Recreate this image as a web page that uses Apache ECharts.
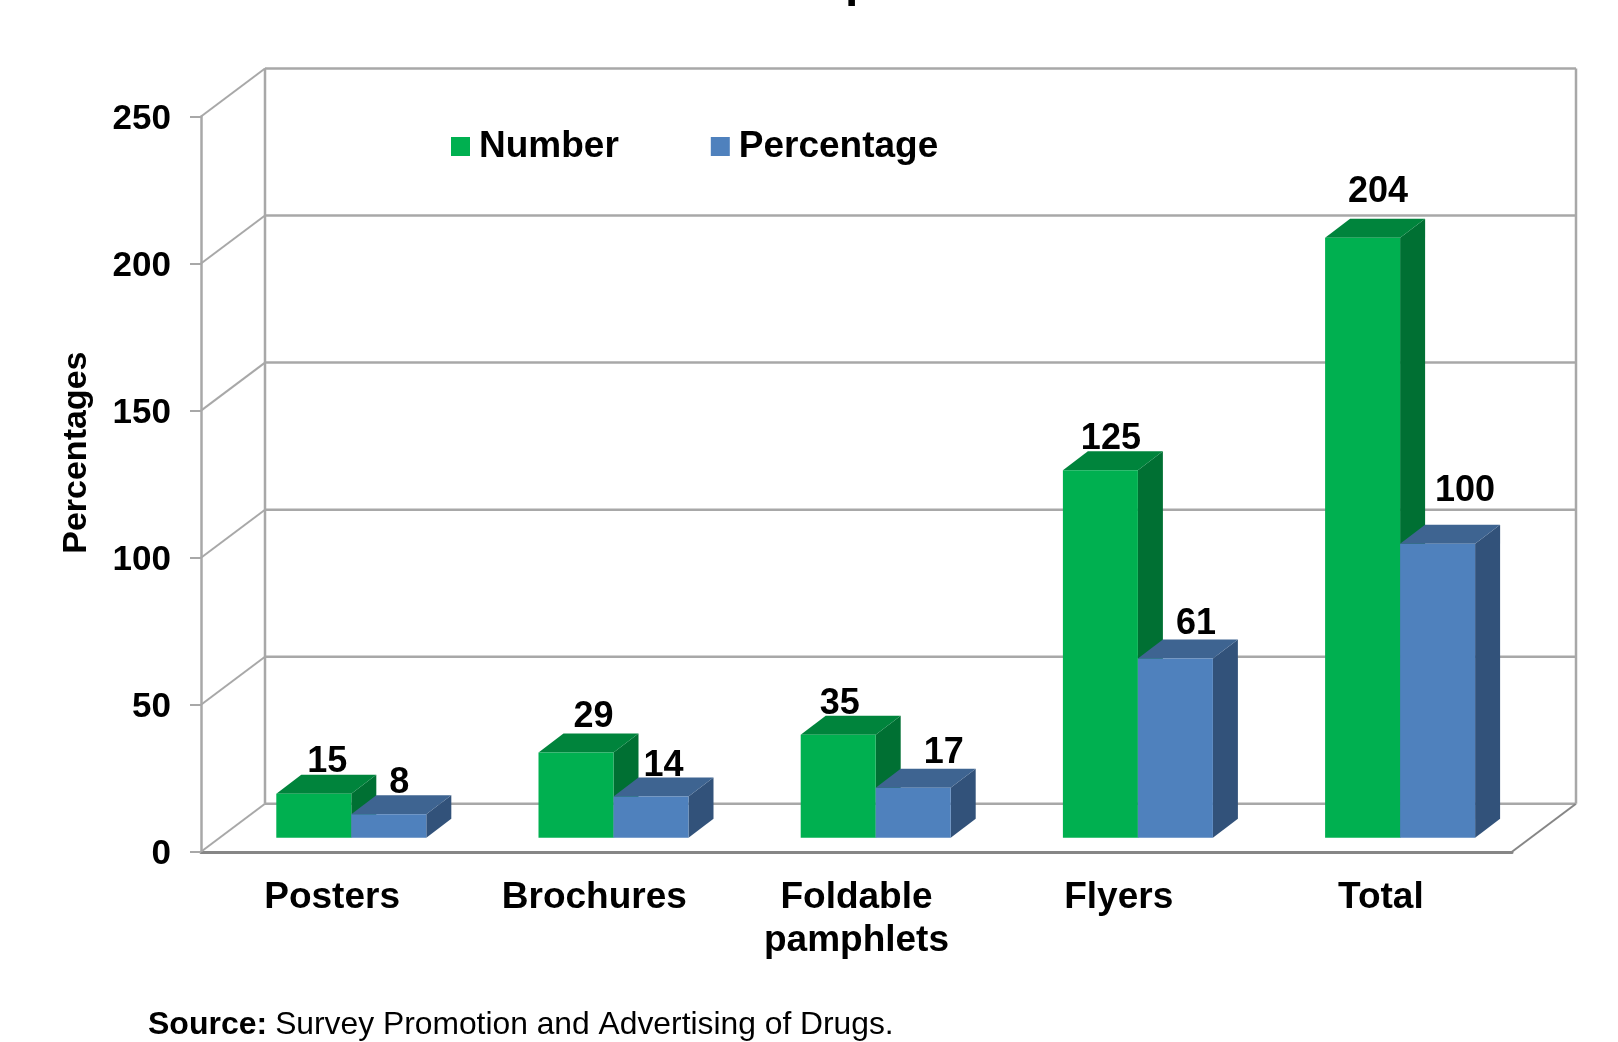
<!DOCTYPE html>
<html>
<head>
<meta charset="utf-8">
<style>html,body{margin:0;padding:0;background:#fff}#chart{width:1618px;height:1042px}</style>
<script src="https://cdn.jsdelivr.net/npm/echarts@6/dist/echarts.min.js"></script>
</head>
<body>
<div id="chart"></div>
<script>
// Chart data
const categories = ['Posters', 'Brochures', 'Foldable\npamphlets', 'Flyers', 'Total'];
const numberValues = [15, 29, 35, 125, 204];
const percentageValues = [8, 14, 17, 61, 100];
const valueTicks = [0, 50, 100, 150, 200, 250];

// Hand-placed label nudges, [dx, dy] from the default spot above each bar
const numberLabelNudge = [[1, 1], [5, -2], [-11, 2], [-2, 2], [3, -13]];
const percentageLabelNudge = [[-2, 2], [0, 2], [18, -2], [8, -1], [15, -20]];

const FONT = '"Liberation Sans", Arial, sans-serif';
const GRID_LINE = '#a8a8a8';
const FLOOR_LINE = '#868686';

// Depth of the box the chart sits in, and of the bars' front plane inside it
const WALL_DX = 64, WALL_DY = -48;
const PLANE_DX = 19.2, PLANE_DY = -14;
const BAR_DX = 25, BAR_DY = -19;
const BAR_WIDTH = 75;

function poly(points, fill) {
  return { type: 'polygon', shape: { points }, style: { fill }, silent: true };
}
function seg(x1, y1, x2, y2, stroke, width) {
  return { type: 'line', shape: { x1, y1, x2, y2 }, style: { stroke, lineWidth: width }, silent: true };
}

// One tick of the back wall: its diagonal from the axis and the line across the wall
function renderWall(params, api) {
  const cs = params.coordSys;
  const tick = api.value(0);
  const y = api.coord([0, tick])[1];
  const left = cs.x, right = cs.x + cs.width;
  const kids = [
    seg(left, y, left + WALL_DX, y + WALL_DY, GRID_LINE, 2),
    seg(left + WALL_DX, y + WALL_DY, right + WALL_DX, y + WALL_DY, GRID_LINE, 2.5)
  ];
  if (tick === 0) {
    kids.push(seg(right, y, right + WALL_DX, y + WALL_DY, FLOOR_LINE, 2));
    const topY = api.coord([0, valueTicks[valueTicks.length - 1]])[1] + WALL_DY;
    kids.push(seg(left + WALL_DX, y + WALL_DY, left + WALL_DX, topY, GRID_LINE, 2.5));
    kids.push(seg(right + WALL_DX, y + WALL_DY, right + WALL_DX, topY, GRID_LINE, 2.5));
  }
  return { type: 'group', children: kids };
}

// A box with front, side and top faces, plus its value label
function boxRenderer(side, front, sideFill, topFill, nudges) {
  return function (params, api) {
    const i = api.value(0), v = api.value(1);
    const c = api.coord([i, v]), base = api.coord([i, 0]);
    const x0 = c[0] + PLANE_DX + (side < 0 ? -BAR_WIDTH : 0);
    const x1 = x0 + BAR_WIDTH;
    const top = c[1] + PLANE_DY, bottom = base[1] + PLANE_DY;
    const n = nudges[params.dataIndex];
    return {
      type: 'group',
      children: [
        poly([[x1, top], [x1 + BAR_DX, top + BAR_DY], [x1 + BAR_DX, bottom + BAR_DY], [x1, bottom]], sideFill),
        poly([[x0, top], [x0 + BAR_DX, top + BAR_DY], [x1 + BAR_DX, top + BAR_DY], [x1, top]], topFill),
        { type: 'rect', shape: { x: x0, y: top, width: BAR_WIDTH, height: bottom - top }, style: { fill: front }, silent: true },
        {
          type: 'text', z2: 50, silent: true,
          style: {
            text: String(v), x: x0 + BAR_WIDTH / 2 + BAR_DX / 2 + n[0], y: top + BAR_DY - 14 + n[1],
            align: 'center', verticalAlign: 'middle', fill: '#000', font: 'bold 36px ' + FONT
          }
        }
      ]
    };
  };
}

const chart = echarts.init(document.getElementById('chart'), null, { renderer: 'canvas' });
chart.setOption({
  animation: false,
  backgroundColor: '#ffffff',
  title: {
    left: 143, top: 1004,
    text: '{b|Source:} {r|Survey Promotion and Advertising of Drugs.}',
    textStyle: {
      rich: {
        b: { fontFamily: FONT, fontWeight: 'bold', fontSize: 32, color: '#000' },
        r: { fontFamily: FONT, fontWeight: 'normal', fontSize: 31.8, color: '#000', padding: [0, 0, 0, 3] }
      }
    }
  },
  legend: {
    left: 451, top: 128, padding: 0,
    itemWidth: 19, itemHeight: 19, itemGap: 92, icon: 'rect',
    selectedMode: false,
    textStyle: { fontFamily: FONT, fontWeight: 'bold', fontSize: 37, color: '#000', padding: [0, 0, 0, 4] },
    data: [
      { name: 'Number', itemStyle: { color: '#00b050' } },
      { name: 'Percentage', itemStyle: { color: '#4f81bd' } }
    ]
  },
  grid: { left: 201, right: 106, top: 116.5, bottom: 190.2 },
  xAxis: {
    type: 'category', data: categories,
    axisLine: { lineStyle: { color: FLOOR_LINE, width: 3 } },
    axisTick: { show: false },
    axisLabel: { margin: 24, interval: 0, fontFamily: FONT, fontWeight: 'bold', fontSize: 37, color: '#000', lineHeight: 43 }
  },
  yAxis: {
    type: 'value', min: 0, max: 250, interval: 50,
    name: 'Percentages', nameLocation: 'middle', nameGap: 107,
    nameTextStyle: { fontFamily: FONT, fontWeight: 'bold', fontSize: 34, color: '#000', padding: [0, 0, 0, 63] },
    axisLine: { show: true, lineStyle: { color: GRID_LINE, width: 2.5 } },
    axisTick: { show: true, length: 11, lineStyle: { color: GRID_LINE, width: 2 } },
    splitLine: { show: false },
    axisLabel: { margin: 30, fontFamily: FONT, fontWeight: 'bold', fontSize: 35, color: '#000', verticalAlign: 'top', lineHeight: 6 }
  },
  series: [
    { type: 'custom', name: 'wall', silent: true, z: 1, renderItem: renderWall, encode: { y: 0 }, data: valueTicks.map(t => [t]) },
    {
      type: 'custom', name: 'Number', z: 2, clip: false, itemStyle: { color: '#00b050' },
      renderItem: boxRenderer(-1, '#00b050', '#007033', '#00843c', numberLabelNudge),
      encode: { x: 0, y: 1 }, data: numberValues.map((v, i) => [i, v])
    },
    {
      type: 'custom', name: 'Percentage', z: 3, clip: false, itemStyle: { color: '#4f81bd' },
      renderItem: boxRenderer(1, '#4f81bd', '#32527a', '#3e6491', percentageLabelNudge),
      encode: { x: 0, y: 1 }, data: percentageValues.map((v, i) => [i, v])
    }
  ],
  graphic: [
    // Foot of the heading's "p", the only part of it inside the page
    { type: 'text', left: 845, top: -41, silent: true, style: { text: 'p', font: 'bold 48px ' + FONT, fill: '#000' } }
  ]
});
</script>
</body>
</html>
